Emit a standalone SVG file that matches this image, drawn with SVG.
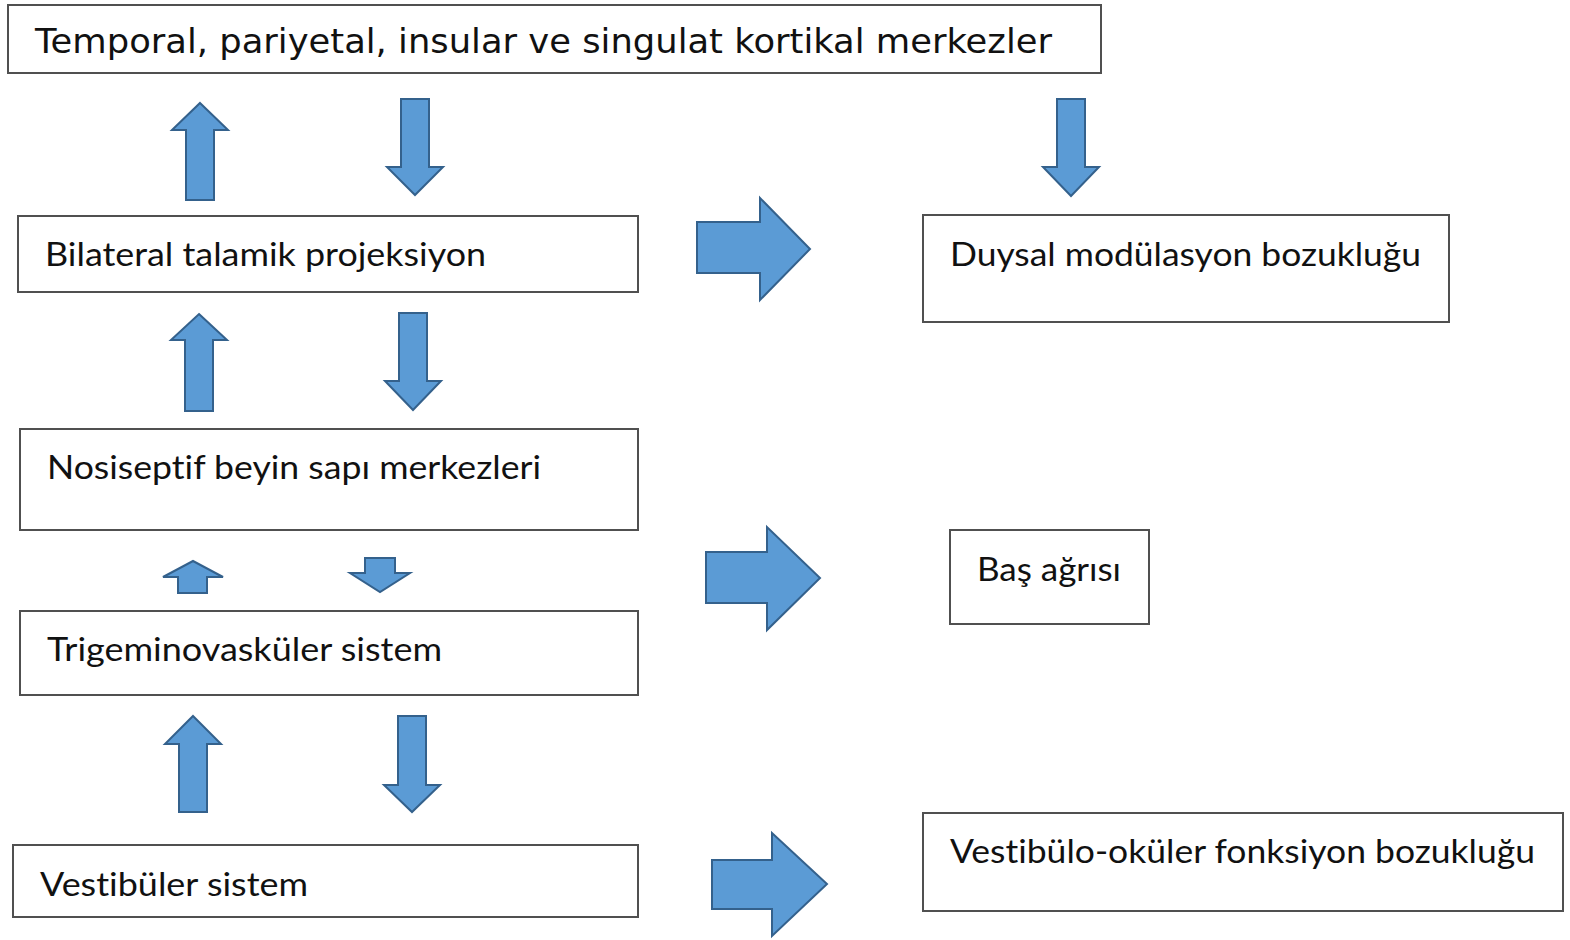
<svg xmlns="http://www.w3.org/2000/svg" width="1570" height="940" viewBox="0 0 1570 940">
<style>
.box{fill:#fff;stroke:#505050;stroke-width:2}
.t{font-family:"Lato","Open Sans","Liberation Sans",sans-serif;font-size:32px;fill:#111;font-variant-ligatures:none;font-feature-settings:"liga" 0,"clig" 0,"dlig" 0,"calt" 0}
.tv{font-family:"DejaVu Sans","Liberation Sans",sans-serif;font-size:33px;fill:#111}
.ar{fill:#5b9bd5;stroke:#34618c;stroke-width:2;stroke-linejoin:miter}
</style>
<rect width="1570" height="940" fill="#fff"/>
<g id="n-top"><rect class="box" x="8" y="5" width="1093" height="68"/><text class="tv" x="35" y="53" textLength="1017" lengthAdjust="spacingAndGlyphs">Temporal, pariyetal, insular ve singulat kortikal merkezler</text></g>
<g id="n-bilateral"><rect class="box" x="18" y="216" width="620" height="76"/><text class="t" x="45" y="266" textLength="441" lengthAdjust="spacingAndGlyphs">Bilateral talamik projeksiyon</text></g>
<g id="n-duysal"><rect class="box" x="923" y="215" width="526" height="107"/><text class="t" x="950" y="266" textLength="471" lengthAdjust="spacingAndGlyphs">Duysal modülasyon bozukluğu</text></g>
<g id="n-nosiseptif"><rect class="box" x="20" y="429" width="618" height="101"/><text class="t" x="47" y="479" textLength="494" lengthAdjust="spacingAndGlyphs">Nosiseptif beyin sapı merkezleri</text></g>
<g id="n-bas"><rect class="box" x="950" y="530" width="199" height="94"/><text class="t" x="977" y="581" textLength="144" lengthAdjust="spacingAndGlyphs">Baş ağrısı</text></g>
<g id="n-trigemino"><rect class="box" x="20" y="611" width="618" height="84"/><text class="t" x="47" y="661" textLength="395" lengthAdjust="spacingAndGlyphs">Trigeminovasküler sistem</text></g>
<g id="n-vestibuler"><rect class="box" x="13" y="845" width="625" height="72"/><text class="t" x="40" y="896" textLength="268" lengthAdjust="spacingAndGlyphs">Vestibüler sistem</text></g>
<g id="n-vestibulo"><rect class="box" x="923" y="813" width="640" height="98"/><text class="t" x="950" y="863" textLength="585" lengthAdjust="spacingAndGlyphs">Vestibülo-oküler fonksiyon bozukluğu</text></g>
<g id="connectors">
<polygon class="ar" points="200,103 228,130 214,130 214,200 186,200 186,130 172,130"/>
<polygon class="ar" points="401,99 429,99 429,167 443,167 415,195 387,167 401,167"/>
<polygon class="ar" points="1057,99 1085,99 1085,167 1099,167 1071,196 1043,167 1057,167"/>
<polygon class="ar" points="697,222 760,222 760,198 810,249 760,300 760,273 697,273"/>
<polygon class="ar" points="199,314 227,340 213,340 213,411 185,411 185,340 171,340"/>
<polygon class="ar" points="399,313 427,313 427,381 441,381 413,410 385,381 399,381"/>
<polygon class="ar" points="193,561 223,577 207,577 207,593 178,593 178,577 163,577"/>
<polygon class="ar" points="365,558 395,558 395,573 410,573 380,592 350,573 365,573"/>
<polygon class="ar" points="706,552 767,552 767,527 820,578 767,630 767,603 706,603"/>
<polygon class="ar" points="193,716 221,744 207,744 207,812 179,812 179,744 165,744"/>
<polygon class="ar" points="398,716 426,716 426,785 440,785 412,812 384,785 398,785"/>
<polygon class="ar" points="712,860 772,860 772,833 827,884 772,936 772,909 712,909"/>
</g>
</svg>
